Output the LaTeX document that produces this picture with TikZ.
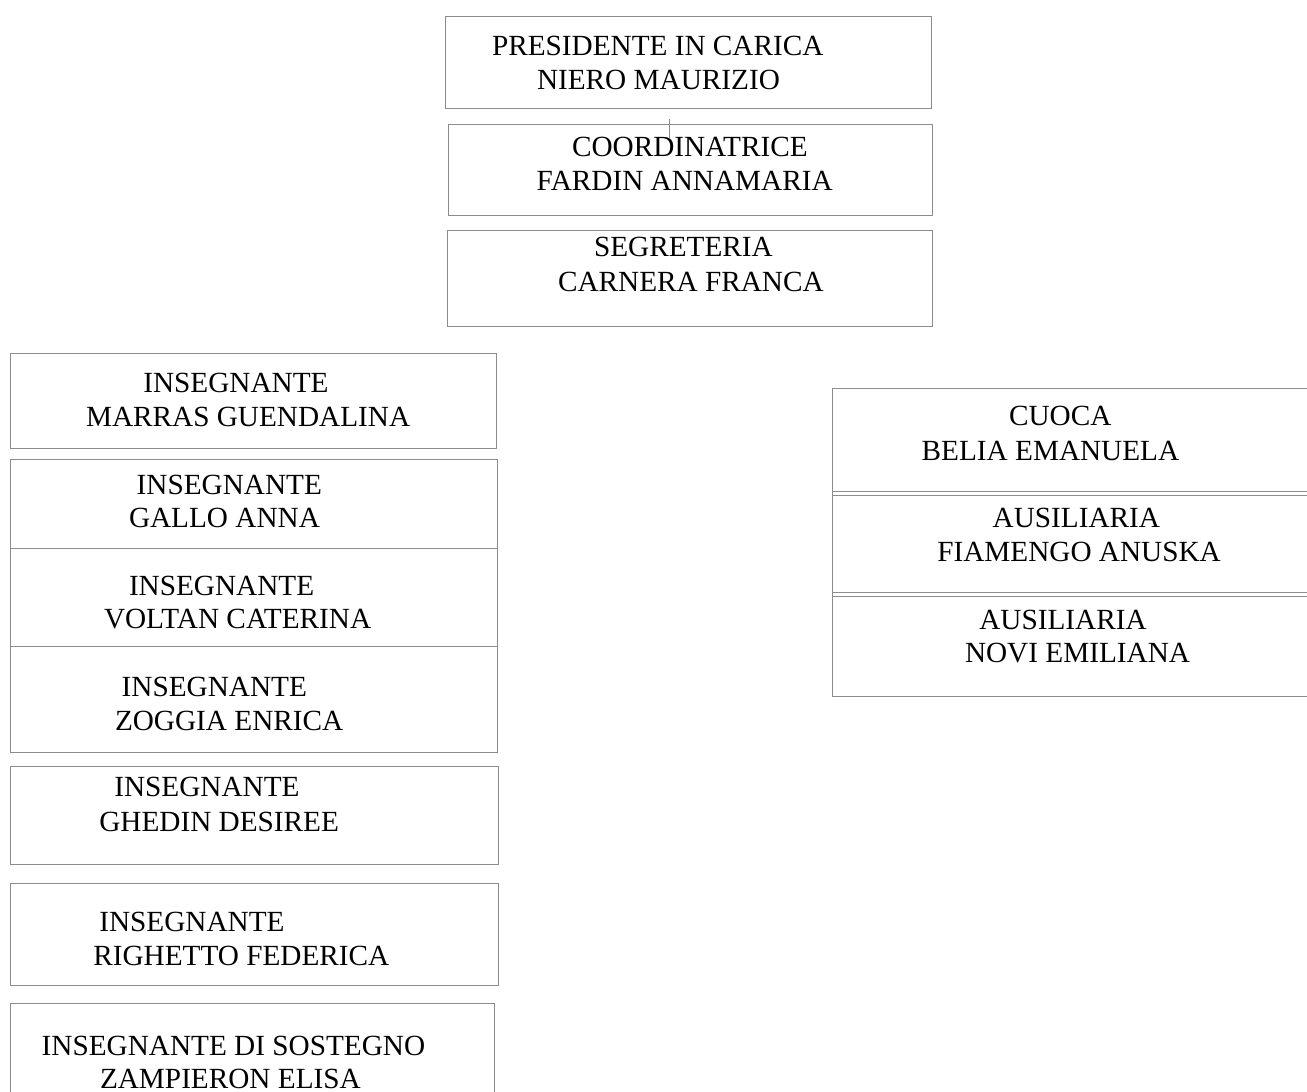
\documentclass[tikz,border=0pt]{standalone}
\usepackage{fontspec}
\setmainfont{Liberation Serif}
\newcommand\orgfs{\fontsize{29.25}{34}\selectfont}
\begin{document}
\begin{tikzpicture}[x=1pt,y=-1pt,
  box/.style={draw=black!45, line width=1pt, anchor=north west, inner sep=0pt, outer sep=0pt},
  txt/.style={anchor=base west, inner sep=0pt, outer sep=0pt, font=\orgfs, text=black},
  tick/.style={draw=black!45, line width=0.8pt},
  edge/.style={draw=black!45, line width=1pt}]
\useasboundingbox (0,0) rectangle (1307,1092);
% top column
\node[box, minimum width=486pt, minimum height=92pt] (pres) at (445,16) {};
\node[box, minimum width=484.5pt, minimum height=91pt] (coord) at (448,124.5) {};
\node[box, minimum width=485.5pt, minimum height=96pt] (segr) at (447,230) {};
% left column
\node[box, minimum width=486pt, minimum height=94.6pt] (marras) at (10.3,353.7) {};
\node[box, minimum width=487.4pt, minimum height=89.4pt] (gallo) at (10.3,459.3) {};
\node[box, minimum width=487.4pt, minimum height=97.6pt] (voltan) at (10.3,548.7) {};
\node[box, minimum width=487.4pt, minimum height=105.7pt] (zoggia) at (10.3,646.3) {};
\node[box, minimum width=488pt, minimum height=98.3pt] (ghedin) at (10.3,766) {};
\node[box, minimum width=488pt, minimum height=101.7pt] (righetto) at (10.3,883.3) {};
\node[box, minimum width=484pt, minimum height=110pt] (zamp) at (10.3,1003.3) {};
% right column
\node[box, minimum width=490pt, minimum height=102.7pt] (cuoca) at (832.3,388.3) {};
\node[box, minimum width=490pt, minimum height=96.7pt] (fiam) at (832.3,495.3) {};
\node[box, minimum width=490pt, minimum height=100.7pt] (novi) at (832.3,596) {};
\draw[edge] (cuoca.north west) -- (novi.south west);
% small tick line
\coordinate (tickA) at (669.5,119);
\coordinate (tickB) at (669.5,138);
\draw[tick] (tickA) -- (tickB);
% texts
\node[txt] (pres1) at (492,55) {PRESIDENTE IN CARICA};
\node[txt] (pres2) at (537,89.3) {NIERO MAURIZIO};
\node[txt] (coord1) at (572,156) {COORDINATRICE};
\node[txt] (coord2) at (536.7,190) {FARDIN ANNAMARIA};
\node[txt] (segr1) at (594,256.7) {SEGRETERIA};
\node[txt] (segr2) at (558,291) {CARNERA FRANCA};
\node[txt] (marras1) at (143.3,392.3) {INSEGNANTE};
\node[txt] (marras2) at (86,426.7) {MARRAS GUENDALINA};
\node[txt] (gallo1) at (136.7,494) {INSEGNANTE};
\node[txt] (gallo2) at (129,527.3) {GALLO ANNA};
\node[txt] (voltan1) at (129,595) {INSEGNANTE};
\node[txt] (voltan2) at (104,628.3) {VOLTAN CATERINA};
\node[txt] (zoggia1) at (121.7,696) {INSEGNANTE};
\node[txt] (zoggia2) at (115,730) {ZOGGIA ENRICA};
\node[txt] (ghedin1) at (114.3,796.7) {INSEGNANTE};
\node[txt] (ghedin2) at (99.3,831) {GHEDIN DESIREE};
\node[txt] (righetto1) at (99.3,931.7) {INSEGNANTE};
\node[txt] (righetto2) at (93.3,965.7) {RIGHETTO FEDERICA};
\node[txt] (zamp1) at (41.7,1055) {INSEGNANTE DI SOSTEGNO};
\node[txt] (zamp2) at (100,1088.3) {ZAMPIERON ELISA};
\node[txt] (cuoca1) at (1009,425.7) {CUOCA};
\node[txt] (cuoca2) at (921.7,460) {BELIA EMANUELA};
\node[txt] (fiam1) at (992.7,527.3) {AUSILIARIA};
\node[txt] (fiam2) at (937.3,561) {FIAMENGO ANUSKA};
\node[txt] (novi1) at (979.3,629.3) {AUSILIARIA};
\node[txt] (novi2) at (965,662.7) {NOVI EMILIANA};
\end{tikzpicture}
\end{document}
